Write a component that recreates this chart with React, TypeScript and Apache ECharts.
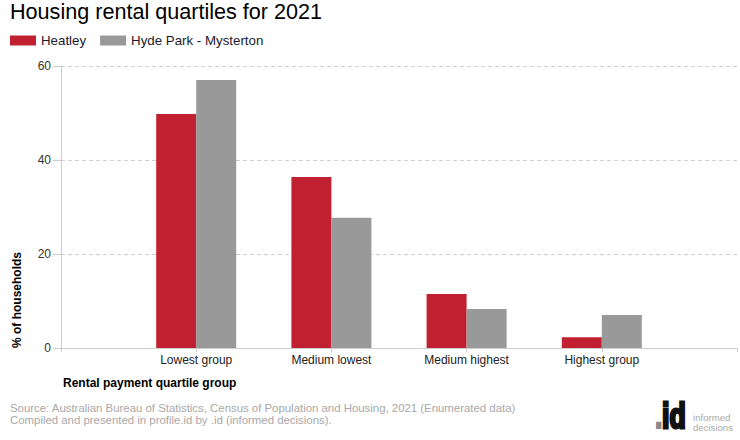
import React, { useEffect, useRef } from "react";
import * as echarts from "echarts";

const categories = ["Lowest group", "Medium lowest", "Medium highest", "Highest group"];
const heatley = [49.8, 36.4, 11.5, 2.3];
const hydePark = [57.0, 27.7, 8.3, 7.0];
const seriesNames = ["Heatley", "Hyde Park - Mysterton"];
const yTicks = { min: 0, max: 60, interval: 20 };

const FONT = "'Liberation Sans', Arial, sans-serif";

export default function App() {
  const ref = useRef<HTMLDivElement>(null);
  useEffect(() => {
    if (!ref.current) return;
    const chart = echarts.init(ref.current, undefined, { renderer: "svg" });
    const paddedCats = ["", ...categories, ""];
    const pad = (a: number[]) => [null, ...a, null];
    chart.setOption({
      animation: false,
      textStyle: { fontFamily: FONT },
      title: {
        text: "Housing rental quartiles for 2021",
        left: 10,
        top: 0,
        padding: 0,
        textStyle: { fontFamily: FONT, fontSize: 21.6, fontWeight: "normal", color: "#000" },
      },
      legend: {
        left: 10,
        top: 34,
        padding: 0,
        icon: "rect",
        itemWidth: 26,
        itemHeight: 10,
        itemGap: 14,
        textStyle: { fontFamily: FONT, fontSize: 13.3, color: "#1a1a2e" },
        data: seriesNames,
      },
      grid: { left: 61, right: 3, top: 66, bottom: 92, containLabel: false },
      xAxis: {
        type: "category",
        data: paddedCats,
        boundaryGap: false,
        axisLine: { lineStyle: { color: "#cccccc" } },
        axisTick: { length: 4, lineStyle: { color: "#cccccc" } },
        axisLabel: { fontFamily: FONT, fontSize: 12, color: "#222", margin: 6, interval: 0 },
        splitLine: { show: false },
      },
      yAxis: {
        type: "value",
        min: yTicks.min,
        max: yTicks.max,
        interval: yTicks.interval,
        axisLine: { show: true, lineStyle: { color: "#cccccc" } },
        axisTick: { show: true, length: 8, lineStyle: { color: "#cccccc" } },
        axisLabel: { fontFamily: FONT, fontSize: 12, color: "#333", margin: 10 },
        splitLine: { show: true, lineStyle: { color: "#d0d0d0", type: [4, 3] } },
      },
      series: [
        {
          name: seriesNames[0],
          type: "bar",
          data: pad(heatley),
          barWidth: 40,
          barGap: "0%",
          itemStyle: { color: "#c0202f" },
        },
        {
          name: seriesNames[1],
          type: "bar",
          data: pad(hydePark),
          barWidth: 40,
          barGap: "0%",
          itemStyle: { color: "#999999" },
        },
      ],
      graphic: [
        {
          type: "text",
          x: 17,
          y: 300,
          rotation: Math.PI / 2,
          style: {
            text: "% of households",
            font: `bold 12px ${FONT}`,
            fill: "#000",
            textAlign: "center",
            textVerticalAlign: "middle",
          },
        },
        {
          type: "text",
          x: 63,
          y: 383,
          style: {
            text: "Rental payment quartile group",
            font: `bold 12px ${FONT}`,
            fill: "#000",
            textAlign: "left",
            textVerticalAlign: "middle",
          },
        },
        {
          type: "text",
          x: 10,
          y: 408,
          style: {
            text: "Source: Australian Bureau of Statistics, Census of Population and Housing, 2021 (Enumerated data)",
            font: `11.4px ${FONT}`,
            fill: "#a8a8a8",
            textAlign: "left",
            textVerticalAlign: "middle",
          },
        },
        {
          type: "text",
          x: 10,
          y: 420,
          style: {
            text: "Compiled and presented in profile.id by .id (informed decisions).",
            font: `11.4px ${FONT}`,
            fill: "#a8a8a8",
            textAlign: "left",
            textVerticalAlign: "middle",
          },
        },
        {
          type: "text",
          x: 655,
          y: 433,
          scaleX: 0.74,
          style: {
            text: ".",
            font: `bold 36px ${FONT}`,
            fill: "#888",
            stroke: "#888",
            lineWidth: 2,
            textAlign: "left",
            textVerticalAlign: "bottom",
          },
        },
        {
          type: "text",
          x: 662,
          y: 433,
          scaleX: 0.74,
          style: {
            text: "id",
            font: `bold 36px ${FONT}`,
            fill: "#111",
            stroke: "#111",
            lineWidth: 3,
            textAlign: "left",
            textVerticalAlign: "bottom",
          },
        },
        {
          type: "text",
          x: 693,
          y: 417,
          style: {
            text: "informed",
            font: `9.6px ${FONT}`,
            fill: "#aaa",
            textAlign: "left",
            textVerticalAlign: "middle",
          },
        },
        {
          type: "text",
          x: 693,
          y: 427,
          style: {
            text: "decisions",
            font: `9.6px ${FONT}`,
            fill: "#aaa",
            textAlign: "left",
            textVerticalAlign: "middle",
          },
        },
      ],
    });
    return () => chart.dispose();
  }, []);
  return <div ref={ref} style={{ width: 740, height: 440, position: "absolute", left: 0, top: 0 }} />;
}
